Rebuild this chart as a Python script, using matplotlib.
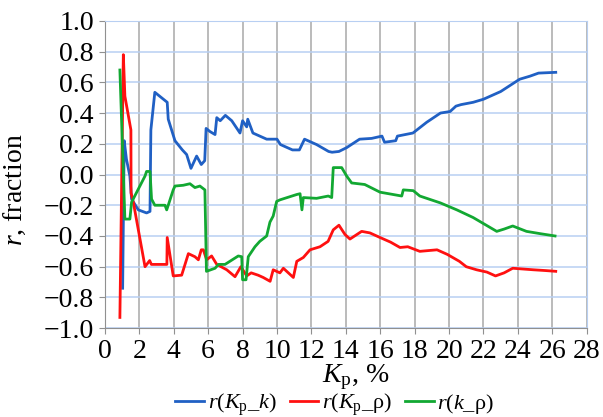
import matplotlib
matplotlib.use("Agg")
import matplotlib.pyplot as plt

# r(Kp_k)
kp_blue = [1.03, 1.12, 1.25, 1.45, 1.55, 1.94, 2.42, 2.62, 2.67, 2.9, 3.62, 3.68,
           4.07, 4.5, 4.75, 5.0, 5.33, 5.6, 5.8, 5.88, 6.1, 6.4, 6.5, 6.7, 7.0,
           7.37, 7.85, 8.0, 8.24, 8.3, 8.6, 9.0, 9.4, 10.0, 10.2, 10.9, 11.3,
           11.6, 12.3, 13.0, 13.2, 13.6, 14.05, 14.8, 15.5, 16.1, 16.25, 16.9,
           17.0, 17.9, 18.7, 19.5, 20.06, 20.4, 20.7, 21.4, 22.0, 23.0, 24.1,
           24.7, 25.2, 26.2]
r_blue = [-0.74, 0.22, 0.10, -0.01, -0.16, -0.23, -0.25, -0.24, 0.29, 0.535, 0.47, 0.36,
          0.22, 0.16, 0.13, 0.04, 0.12, 0.065, 0.09, 0.30, 0.28, 0.26, 0.37, 0.35, 0.385,
          0.35, 0.27, 0.35, 0.31, 0.36, 0.27, 0.25, 0.23, 0.23, 0.195, 0.16, 0.16,
          0.23, 0.195, 0.15, 0.145, 0.15, 0.175, 0.23, 0.235, 0.25, 0.21, 0.22,
          0.25, 0.27, 0.34, 0.40, 0.41, 0.445, 0.455, 0.47, 0.49, 0.54, 0.62,
          0.64, 0.66, 0.665]

# r(Kp_rho)
kp_red = [0.87, 1.07, 1.16, 1.51, 1.52, 1.65, 2.33, 2.6, 2.7, 3.6, 3.62, 3.97,
          4.46, 4.85, 5.23, 5.43, 5.6, 5.72, 5.91, 6.2, 6.5, 7.08, 7.56, 7.9,
          8.24, 8.5, 8.9, 9.2, 9.6, 9.78, 10.17, 10.37, 10.95, 11.15, 11.53,
          11.92, 12.5, 12.97, 13.27, 13.6, 13.95, 14.24, 14.92, 15.4, 15.99,
          16.6, 17.15, 17.6, 18.3, 19.3, 19.9, 20.6, 21.0, 21.6, 22.2, 22.7,
          23.2, 23.7, 24.3, 24.9, 25.6, 26.2]
r_red = [-0.93, 0.78, 0.51, 0.29, -0.12, -0.18, -0.60, -0.56, -0.585, -0.585, -0.41, -0.66,
         -0.655, -0.515, -0.535, -0.555, -0.49, -0.49, -0.555, -0.53, -0.585, -0.62, -0.665, -0.60,
         -0.66, -0.64, -0.655, -0.67, -0.695, -0.62, -0.64, -0.61, -0.67, -0.565, -0.54,
         -0.49, -0.47, -0.435, -0.36, -0.33, -0.39, -0.42, -0.37, -0.38, -0.41,
         -0.44, -0.475, -0.47, -0.50, -0.49, -0.52, -0.565, -0.60, -0.62, -0.635, -0.66,
         -0.64, -0.61, -0.615, -0.62, -0.625, -0.63]

# r(k_rho)
kp_green = [0.87, 1.16, 1.45, 1.55, 2.33, 2.42, 2.62, 2.71, 2.9, 3.49, 3.59, 3.68,
            3.97, 4.07, 4.55, 4.94, 5.23, 5.52, 5.81, 5.9, 6.4, 6.6, 6.98, 7.75,
            7.95, 8.0, 8.2, 8.33, 8.72, 9.0, 9.4, 9.59, 9.78, 9.98, 10.17, 11.15,
            11.34, 11.45, 11.53, 12.3, 12.98, 13.18, 13.27, 13.76, 14.05, 14.34,
            15.1, 15.99, 17.25, 17.34, 17.92, 18.3, 19.5, 20.45, 21.4, 22.77,
            23.2, 23.7, 24.5, 25.3, 26.16]
r_green = [0.68, -0.29, -0.29, -0.18, -0.01, 0.02, 0.02, -0.16, -0.20, -0.20, -0.23, -0.20,
           -0.10, -0.075, -0.07, -0.06, -0.085, -0.075, -0.10, -0.63, -0.61, -0.585, -0.585, -0.53,
           -0.535, -0.685, -0.685, -0.535, -0.47, -0.435, -0.40, -0.31, -0.27, -0.175, -0.165, -0.13,
           -0.125, -0.23, -0.15, -0.155, -0.14, -0.15, 0.045, 0.045, -0.01, -0.055,
           -0.065, -0.115, -0.14, -0.10, -0.105, -0.14, -0.185, -0.23, -0.28, -0.37,
           -0.355, -0.335, -0.37, -0.385, -0.40]

x_ticks = list(range(0, 29, 2))
y_ticks = [-1.0, -0.8, -0.6, -0.4, -0.2, 0.0, 0.2, 0.4, 0.6, 0.8, 1.0]
labels = [r'$r(K_\mathrm{p}\_k)$', r'$r(K_\mathrm{p}\_\mathrm{ρ})$', r'$r(k\_\mathrm{ρ})$']

plt.rcParams['font.family'] = 'serif'
plt.rcParams['font.serif'] = ['Liberation Serif', 'DejaVu Serif']
plt.rcParams['mathtext.fontset'] = 'custom'
plt.rcParams['mathtext.rm'] = 'Liberation Serif'
plt.rcParams['mathtext.it'] = 'Liberation Serif:italic'

fig = plt.figure(figsize=(6.03, 4.17), dpi=100)
ax = fig.add_axes([0.174, 0.213, 0.799, 0.737])

ax.plot(kp_blue, r_blue, color='#2060C4', lw=2.0, label=labels[0])
ax.plot(kp_red, r_red, color='#FF1010', lw=2.0, label=labels[1])
ax.plot(kp_green, r_green, color='#12A832', lw=2.0, label=labels[2])

ax.set_xlim(0, 28)
ax.set_ylim(-1.0, 1.0)
ax.set_xticks(x_ticks)
ax.set_yticks(y_ticks)
ax.set_yticklabels([f'{v:.1f}'.replace('-', '\u2212') for v in y_ticks])

ax.set_axisbelow(True)
ax.xaxis.grid(True, color='#A8A8A8', lw=1.1)
ax.yaxis.grid(True, color='#B8CFF2', lw=1.1)
for s in ['left', 'bottom']:
    ax.spines[s].set_color('#909090')
for s in ['top', 'right']:
    ax.spines[s].set_color('#B8CFF2')
ax.tick_params(labelsize=20, length=4, color='#909090', pad=4)

ax.set_xlabel(r'$K_\mathrm{p}$, %', fontsize=20)
ax.xaxis.set_label_coords(0.52, -0.112)
ax.set_ylabel(r'$r$, fraction', fontsize=20)
ax.yaxis.set_label_coords(-0.16, 0.45)

fig.legend(loc='center', bbox_to_anchor=(0.555, 0.03), ncol=3, frameon=False,
           fontsize=16, handlelength=1.3, handletextpad=0.15, columnspacing=0.6)

fig.savefig('out.png', dpi=100)
